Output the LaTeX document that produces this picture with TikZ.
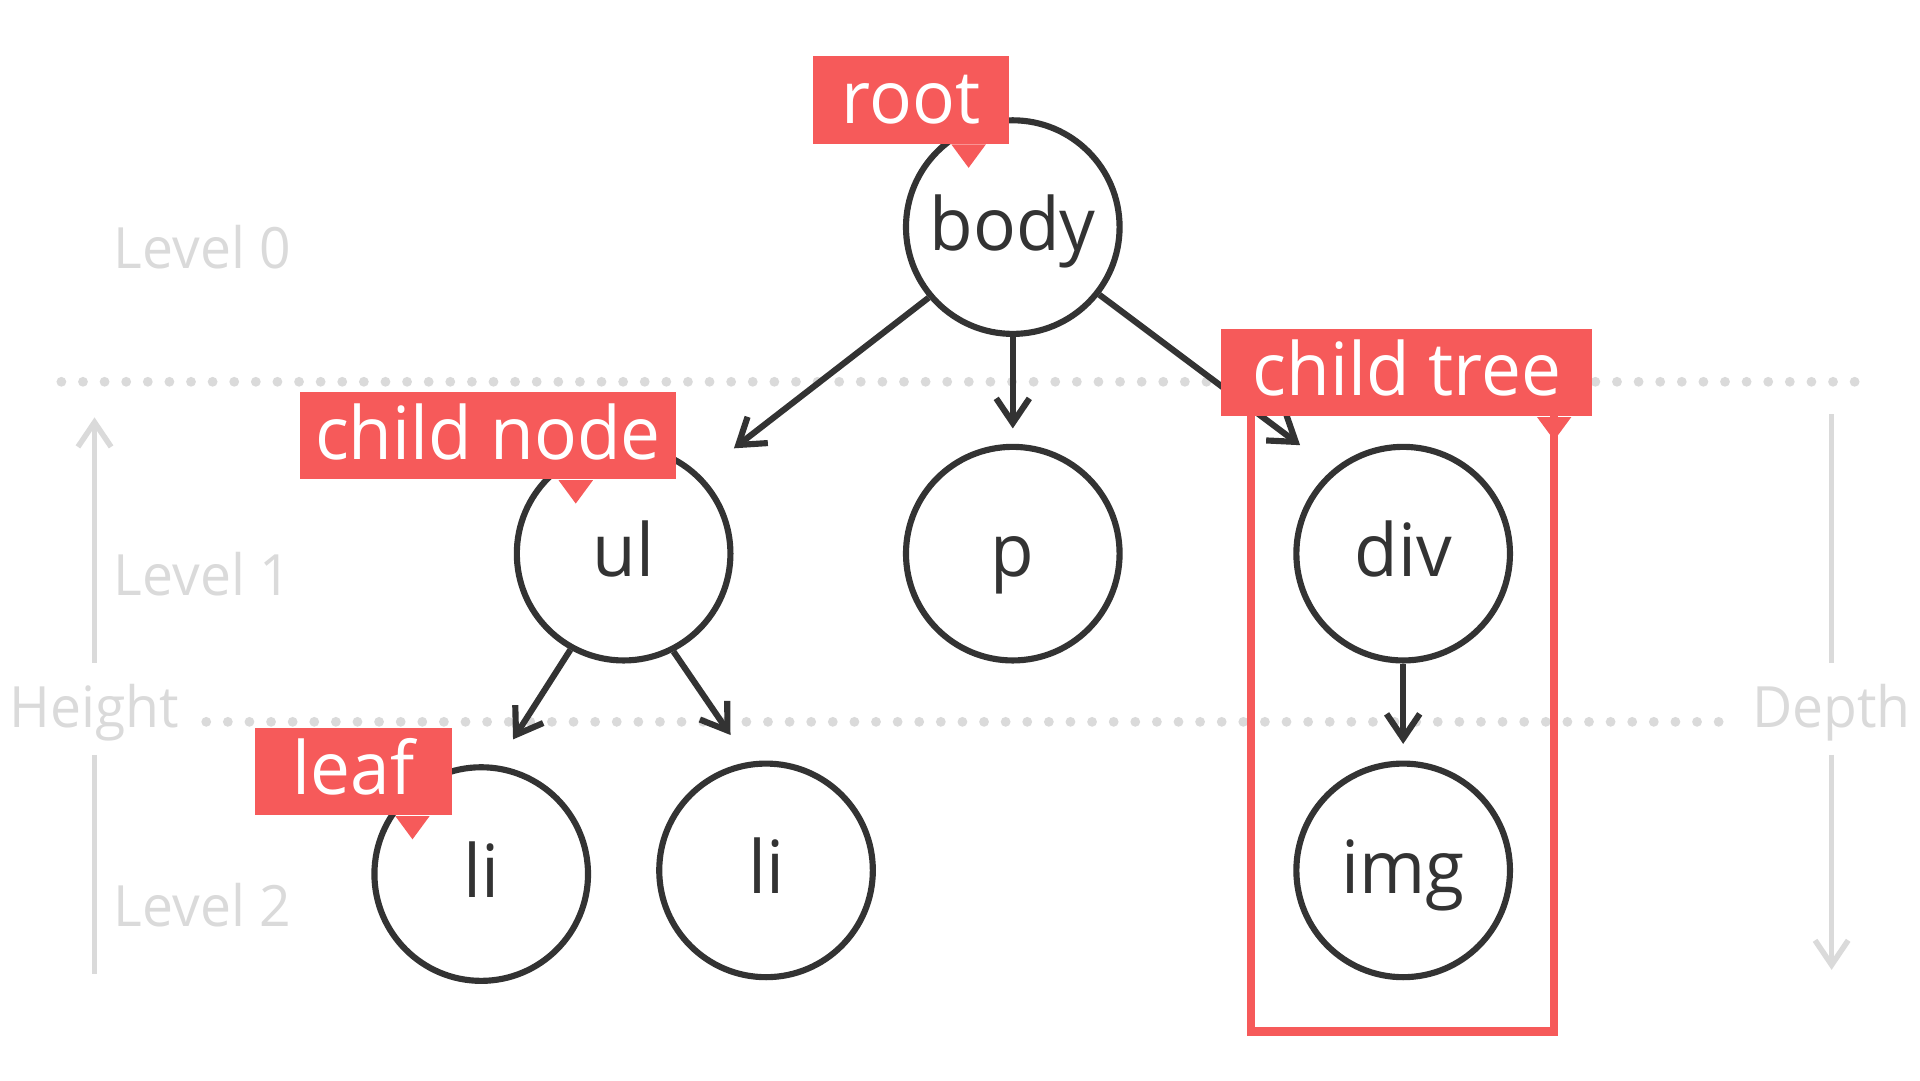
\documentclass[tikz,border=0pt]{standalone}
\usepackage{fontspec}
\setmainfont{Open Sans}[FakeStretch=0.97]
\usepackage{tikz}
\usetikzlibrary{arrows.meta}

\definecolor{ink}{HTML}{333333}
\definecolor{tagred}{HTML}{F65A5A}
\definecolor{faint}{HTML}{DADADA}

% small pointer under a label box
\newcommand{\tagtip}[2]{\fill[tagred] ([xshift=#2cm-1.4mm]#1.south) -- ([xshift=#2cm,yshift=-1.9mm]#1.south) -- ([xshift=#2cm+1.4mm]#1.south) -- cycle;}

\begin{document}
\begin{tikzpicture}[
    tree/.style={circle, draw=ink, line width=0.05cm, fill=white, minimum size=1.74cm,
      inner sep=0pt, text=ink, font=\fontsize{17}{20}\selectfont, text height=13pt, text depth=2.2pt},
    tag/.style={fill=tagred, text=white, minimum height=0.71cm, inner sep=0pt,
      font=\fontsize{17}{20}\selectfont, text height=13pt, text depth=2.2pt},
    link/.style={draw=ink, line width=0.05cm, -{Straight Barb[length=2mm,width=2.7mm]}},
    faintlbl/.style={text=faint, inner sep=0pt, font=\fontsize{13.2}{15}\selectfont},
    dots/.style={draw=faint, line width=0.08cm, line cap=round, dash pattern=on 0pt off 0.176cm},
    axis/.style={draw=faint, line width=0.045cm}
  ]
    \useasboundingbox (0,0) rectangle (15.64,8.80);
    %\fill[white] (0,0) rectangle (15.64,8.80);
    \draw [dots] (0.50,5.69) -- (15.20,5.69);
    \draw [dots] (1.68,2.92) -- (14.12,2.92);
    \node [faintlbl, anchor=base west] (l) at (0.92,6.61) {Level 0};
    \node [faintlbl, anchor=base west] (m) at (0.92,3.95) {Level 1};
    \node [faintlbl, anchor=base west] (n) at (0.92,1.25) {Level 2};
    \node [faintlbl, anchor=base] (h) at (0.77,2.87) {Height};
    \node [faintlbl, anchor=base] (k) at (14.92,2.87) {Depth};
    \coordinate (h1) at (0.77,5.40);
    \coordinate (h2) at (0.77,0.87);
    \coordinate (k1) at (14.92,5.43);
    \coordinate (k2) at (14.92,0.90);
    \draw [axis, -{Straight Barb[length=2mm,width=2.7mm]}] ([yshift=0.53cm]h.base) to (h1);
    \draw [axis] ([yshift=-0.22cm]h.base) to (h2);
    \draw [axis] ([yshift=0.53cm]k.base) to (k1);
    \draw [axis, -{Straight Barb[length=2mm,width=2.7mm]}] ([yshift=-0.22cm]k.base) to (k2);
    \node [tree] (a) at (8.25,6.95) {body};
    \node [tree] (b) at (5.08,4.29) {ul};
    \node [tree] (c) at (8.25,4.29) {p};
    \node [tree] (d) at (11.43,4.29) {div};
    \node [tree] (e) at (3.92,1.68) {li};
    \node [tree] (f) at (6.24,1.71) {li};
    \node [tree] (g) at (11.43,1.71) {img};
    \draw [link, shorten >=0.35cm] (a.220) to (b.46);
    \draw [link, shorten >=0.125cm] (a) to (c);
    \draw [link, shorten >=0.33cm] (a.322.6) to (d.130.3);
    \draw [link, shorten >=0.25cm] (b.241) to (e.82);
    \draw [link, shorten >=0.265cm] (b.297) to (f.99);
    \draw [link, shorten >=0.135cm] (d) to (g);
    \draw [tagred, line width=0.07cm] (10.19,5.50) rectangle (12.66,0.40);
    \node [tag, minimum width=1.60cm] (r) at (7.42,7.985) {root};
    \node [tag, minimum width=3.07cm] (s) at (3.975,5.25) {child node};
    \node [tag, minimum width=3.02cm] (t) at (11.46,5.765) {child tree};
    \node [tag, minimum width=1.60cm] (u) at (2.88,2.515) {leaf};
    \tagtip{r}{0.47}
    \tagtip{s}{0.715}
    \tagtip{t}{1.20}
    \tagtip{u}{0.48}
  \end{tikzpicture}
\end{document}
